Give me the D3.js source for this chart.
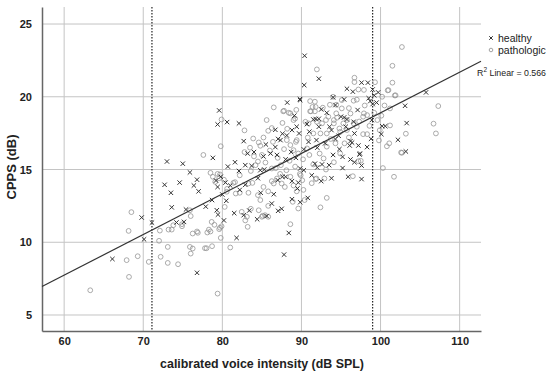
<!DOCTYPE html>
<html>
<head>
<meta charset="utf-8">
<script src="https://cdn.jsdelivr.net/npm/d3@7"></script>
<style>
  body { margin: 0; background: #fff; }
  text { font-family: "Liberation Sans", Arial, sans-serif; }
</style>
</head>
<body>
<div id="chart"></div>
<script>
// tick values
var xTicks = [60, 70, 80, 90, 100, 110];
var yTicks = [5, 10, 15, 20, 25];
// reference lines (dB SPL)
var refLines = [71.1, 99.0];
// linear fit
var fitIntercept = -9.0;
var fitSlope = 0.279;
var fitR2 = "0.566";

// [intensity dB SPL, CPPS dB]
var healthy = [
  [66.1,8.85],[69.8,11.7],[71.1,11.35],[70.1,10.2],[73.0,15.55],[75.9,14.8],[80.7,15.2],[72.7,13.95],
  [74.6,14.1],[73.5,13.4],[76.4,13.9],[77.0,13.5],[76.8,14.3],[73.6,12.4],[75.4,12.25],[77.9,12.45],
  [78.7,12.9],[79.2,14.24],[79.8,14.5],[80.4,14.1],[81.0,13.9],[79.4,13.8],[80.0,13.28],[80.5,12.85],
  [79.3,12.2],[79.45,11.9],[80.2,11.5],[81.8,10.3],[81.5,12.0],[82.7,11.86],[83.4,12.18],[84.4,11.58],
  [85.6,11.8],[86.25,12.66],[86.5,13.3],[87.05,12.16],[87.5,12.3],[88.4,10.64],[87.8,9.15],[76.8,7.9],
  [75.15,11.4],[74.2,11.36],[85.2,15.9],[86.1,16.1],[86.9,16.0],[88.0,15.7],[82.9,15.3],[83.7,15.25],
  [84.8,14.95],[82.9,13.95],[82.2,13.6],[84.5,14.4],[85.3,15.0],[84.85,13.4],[88.8,14.2],[88.8,12.96],
  [79.6,19.06],[79.4,18.1],[80.6,18.26],[82.1,18.17],[82.7,16.95],[85.5,16.72],[86.7,16.54],[86.7,17.73],
  [88.2,19.6],[89.8,19.84],[87.05,17.1],[87.35,17.02],[87.6,17.46],[88.15,17.34],[88.8,17.71],[89.1,18.7],
  [89.4,17.94],[89.7,17.48],[90.4,22.82],[90.35,20.8],[92.2,21.24],[97.6,20.97],[98.4,20.97],[95.75,20.55],
  [96.5,20.35],[99.0,20.5],[99.7,20.3],[98.5,19.9],[98.7,19.7],[99.2,20.1],[99.5,19.6],[99.0,19.5],
  [105.75,20.3],[103.1,19.38],[103.3,18.19],[100.2,17.98],[100.6,17.98],[100.1,17.43],[102.2,17.04],
  [103.2,16.24],[98.8,17.11],[98.9,18.4],[95.4,19.82],[89.84,19.77],[92.5,19.13],[97.1,19.09],[95.0,18.63],
  [91.5,18.44],[92.2,18.49],[90.7,18.12],[93.55,17.94],[92.2,17.94],[95.75,18.44],[95.6,17.94],[96.6,18.28],
  [93.8,17.71],[94.7,17.32],[96.7,17.48],[91.9,17.02],[94.3,17.09],[96.2,16.95],[96.4,16.85],[96.1,16.65],
  [97.2,16.65],[98.3,16.54],[92.0,16.5],[90.3,16.38],[97.4,16.1],[97.35,16.03],[96.2,15.69],[95.2,15.87],
  [96.7,15.5],[97.6,15.27],[95.2,15.1],[95.9,14.5],[97.6,14.34],[91.7,15.4],[92.0,15.14],[92.6,15.35],
  [90.3,14.95],[89.84,15.07],[90.8,13.05],[89.84,12.75],[89.5,13.7],[89.6,14.1],[88.0,14.5],[87.6,14.5],
  [87.0,14.27],[94.0,19.96],[94.3,19.43],[95.4,18.58],[91.8,18.47],[93.2,18.9],[91.0,17.6],[93.0,16.8],
  [94.0,16.0],[94.8,16.4],[88.7,16.2],[89.3,15.8],[90.9,16.9],[91.3,14.6],[93.5,15.3],[93.8,14.4],
  [92.5,14.2],[84.0,16.2],[83.2,16.1],[81.6,15.5],[82.1,14.9],[78.8,15.8],[75.0,15.4]
];

var pathologic = [
  [63.3,6.7],[68.5,12.07],[68.15,10.78],[67.9,8.77],[69.3,9.04],[68.2,7.62],[70.7,8.65],[72.1,10.8],
  [72.0,10.1],[72.2,9.0],[73.1,9.68],[73.1,8.58],[74.4,8.49],[73.2,10.87],[73.6,10.87],[73.8,11.17],
  [74.9,11.24],[74.9,11.1],[75.9,12.2],[76.0,11.8],[76.25,10.6],[76.8,10.74],[76.9,10.65],[75.9,9.68],
  [76.25,9.57],[76.0,9.22],[77.8,9.59],[78.0,9.59],[78.7,9.73],[78.1,10.67],[78.5,10.74],[78.3,10.87],
  [78.65,11.4],[79.0,11.2],[79.6,10.9],[79.7,11.0],[79.8,10.3],[79.9,11.1],[81.0,9.64],[79.4,6.47],
  [78.5,14.77],[78.8,14.5],[79.4,14.7],[79.7,14.66],[79.1,14.15],[79.6,14.4],[80.2,14.3],[80.6,13.67],
  [80.55,13.47],[80.3,12.43],[81.4,14.08],[81.6,14.13],[82.2,14.6],[81.7,13.35],[82.2,13.4],[83.3,13.4],
  [83.8,14.08],[84.5,13.24],[84.8,12.9],[85.8,12.5],[84.6,12.2],[85.1,11.82],[85.8,11.75],[82.9,11.5],
  [83.2,11.06],[82.45,12.09],[83.3,14.04],[85.2,13.8],[85.8,13.5],[86.25,14.2],[86.9,14.38],[86.5,14.04],
  [87.3,14.7],[87.5,14.04],[87.9,13.8],[88.6,14.5],[89.4,13.5],[89.0,13.9],[88.6,11.24],[84.5,15.55],
  [85.45,15.48],[86.25,15.07],[86.75,15.09],[87.4,15.3],[88.1,14.95],[89.8,14.7],[82.8,16.2],[77.6,16.0],
  [79.8,16.6],[84.2,15.3],[83.6,14.9],[79.9,18.44],[82.8,17.69],[83.9,17.13],[84.6,16.86],[84.8,16.63],
  [85.8,17.66],[86.25,17.85],[86.5,19.27],[87.8,19.04],[88.6,18.86],[89.2,18.5],[89.0,18.4],[89.35,19.1],
  [88.15,17.02],[88.6,16.68],[89.0,16.33],[89.4,17.02],[102.7,23.42],[101.5,22.13],[91.95,21.88],
  [96.7,21.31],[101.5,20.97],[96.7,21.01],[100.9,20.44],[101.8,20.09],[97.2,20.5],[97.9,20.47],
  [107.3,19.36],[101.2,19.2],[99.6,18.4],[106.7,18.15],[107.0,17.48],[101.2,18.03],[99.9,17.7],
  [103.2,17.46],[101.1,16.8],[100.8,16.6],[102.6,16.17],[99.8,17.0],[94.0,20.0],[95.1,19.77],[96.6,19.73],
  [91.1,19.7],[91.7,19.66],[91.4,19.3],[91.1,19.0],[91.7,19.0],[92.7,19.25],[93.6,19.45],[94.4,19.45],
  [95.1,19.2],[96.0,19.22],[96.2,18.85],[97.9,18.86],[97.8,18.63],[98.3,18.74],[94.4,18.86],[94.5,18.56],
  [94.1,18.4],[93.4,18.63],[90.5,18.28],[90.9,18.17],[91.95,18.28],[92.6,18.17],[93.1,18.4],[94.1,18.17],
  [95.75,18.4],[95.3,18.17],[96.6,18.17],[97.0,17.94],[94.8,17.82],[95.75,17.71],[94.9,17.59],[97.8,17.43],
  [98.3,17.43],[92.4,17.48],[93.2,17.48],[91.5,17.48],[95.45,16.8],[94.3,16.8],[93.2,16.57],[90.7,16.45],
  [94.9,16.1],[100.3,15.1],[101.7,14.5],[102.7,16.15],[96.5,14.54],[97.2,15.57],[97.5,15.6],[94.1,15.5],
  [91.5,15.35],[92.8,15.76],[93.1,15.0],[91.9,14.38],[92.9,14.38],[91.3,14.06],[90.1,14.26],[89.9,14.6],
  [90.4,12.9],[93.2,13.05],[92.4,12.4],[83.1,11.75],[85.0,11.75],[85.4,11.86],[83.6,12.3],[88.9,12.78],
  [89.6,12.32],[90.25,13.6],[91.8,14.34],[101.0,20.46],[101.9,20.1],[87.7,19.0],[88.4,18.9],[91.8,19.3],
  [91.2,19.0],[85.0,16.0],[86.0,16.3],[87.0,15.8],[87.8,16.4],[88.5,15.6],[89.3,16.9],[89.6,16.1],
  [88.2,17.8],[86.4,16.9],[85.2,17.2],[83.5,16.5],[84.0,15.9],[87.6,18.2],[85.6,18.4],[89.2,15.2],
  [90.2,15.7],[91.0,16.0],[92.3,16.1],[93.7,17.1],[90.8,17.2],[96.0,17.2],[97.3,18.3],[98.6,18.0],
  [99.2,18.9],[100.5,19.4],[100.1,18.7],[98.0,19.4],[97.0,19.8],[99.3,21.0],[100.2,20.0]
];

var width = 550, height = 375;
var margin = {top: 7, right: 69, bottom: 44, left: 42};

var svg = d3.select("#chart").append("svg")
    .attr("width", width)
    .attr("height", height);

var x = d3.scaleLinear()
    .domain([57.2, 112.7])
    .range([margin.left, width - margin.right]);

var y = d3.scaleLinear()
    .domain([3.9, 26.17])
    .range([height - margin.bottom, margin.top]);

// grid
svg.append("g")
    .selectAll("line.vgrid")
    .data(xTicks)
    .enter().append("line")
    .attr("x1", function(d) { return x(d); })
    .attr("x2", function(d) { return x(d); })
    .attr("y1", margin.top)
    .attr("y2", height - margin.bottom)
    .style("stroke", "#c4c4c4")
    .style("stroke-width", 1);

svg.append("g")
    .selectAll("line.hgrid")
    .data(yTicks)
    .enter().append("line")
    .attr("x1", margin.left)
    .attr("x2", width - margin.right)
    .attr("y1", function(d) { return y(d); })
    .attr("y2", function(d) { return y(d); })
    .style("stroke", "#c4c4c4")
    .style("stroke-width", 1);

// dotted reference lines
svg.append("g")
    .selectAll("line")
    .data(refLines)
    .enter().append("line")
    .attr("x1", function(d) { return x(d); })
    .attr("x2", function(d) { return x(d); })
    .attr("y1", margin.top)
    .attr("y2", height - margin.bottom)
    .style("stroke", "#222")
    .style("stroke-width", 1.2)
    .style("stroke-dasharray", "1.5,1.5");

// axes
var xAxis = svg.append("g")
    .attr("transform", "translate(0," + (height - margin.bottom) + ")")
    .call(d3.axisBottom(x).tickValues(xTicks).tickSize(0).tickPadding(6));

var yAxis = svg.append("g")
    .attr("transform", "translate(" + margin.left + ",0)")
    .call(d3.axisLeft(y).tickValues(yTicks).tickSize(0).tickPadding(10));

[xAxis, yAxis].forEach(function(a) {
  a.select(".domain").style("stroke", "#666").style("stroke-width", 1.5);
  a.selectAll("text")
      .style("font-size", "11px")
      .style("font-weight", "bold")
      .style("fill", "#222");
});

// pathologic circles
svg.append("g")
    .selectAll("circle")
    .data(pathologic)
    .enter().append("circle")
    .attr("cx", function(d) { return x(d[0]); })
    .attr("cy", function(d) { return y(d[1]); })
    .attr("r", 2.4)
    .style("fill", "none")
    .style("stroke", "#959595")
    .style("stroke-width", 0.8);

// healthy crosses
var cross = "M-2.2,-2.2L2.2,2.2M-2.2,2.2L2.2,-2.2";
svg.append("g")
    .selectAll("path")
    .data(healthy)
    .enter().append("path")
    .attr("d", cross)
    .attr("transform", function(d) { return "translate(" + x(d[0]) + "," + y(d[1]) + ")"; })
    .style("fill", "none")
    .style("stroke", "#333")
    .style("stroke-width", 1);

// fit line
var fitX = x.domain();
svg.append("line")
    .attr("x1", x(fitX[0]))
    .attr("y1", y(fitIntercept + fitSlope * fitX[0]))
    .attr("x2", x(fitX[1]))
    .attr("y2", y(fitIntercept + fitSlope * fitX[1]))
    .style("stroke", "#333")
    .style("stroke-width", 1.2);

// axis titles
svg.append("text")
    .attr("x", 262)
    .attr("y", 368)
    .attr("text-anchor", "middle")
    .style("font-size", "12.4px")
    .style("font-weight", "bold")
    .style("fill", "#222")
    .text("calibrated voice intensity (dB SPL)");

svg.append("text")
    .attr("transform", "translate(16,167) rotate(-90)")
    .attr("text-anchor", "middle")
    .style("font-size", "13px")
    .style("font-weight", "bold")
    .style("fill", "#222")
    .text("CPPS (dB)");

// legend
var legend = svg.append("g");
legend.append("path")
    .attr("d", "M-1.8,-1.8L1.8,1.8M-1.8,1.8L1.8,-1.8")
    .attr("transform", "translate(491,38)")
    .style("stroke", "#333")
    .style("fill", "none");
legend.append("text")
    .attr("x", 498).attr("y", 42)
    .style("font-size", "10.5px").style("fill", "#222")
    .text("healthy");
legend.append("circle")
    .attr("cx", 491).attr("cy", 50).attr("r", 1.8)
    .style("fill", "none").style("stroke", "#8c8c8c").style("stroke-width", 0.8);
legend.append("text")
    .attr("x", 498).attr("y", 54)
    .style("font-size", "10.5px").style("fill", "#222")
    .text("pathologic");

var r2 = legend.append("text")
    .attr("x", 546).attr("y", 76)
    .attr("text-anchor", "end")
    .style("font-size", "8.8px").style("fill", "#222");
r2.append("tspan").text("R");
r2.append("tspan").attr("dy", -4).style("font-size", "6.5px").text("2");
r2.append("tspan").attr("dy", 4).text(" Linear = " + fitR2);
</script>
</body>
</html>
